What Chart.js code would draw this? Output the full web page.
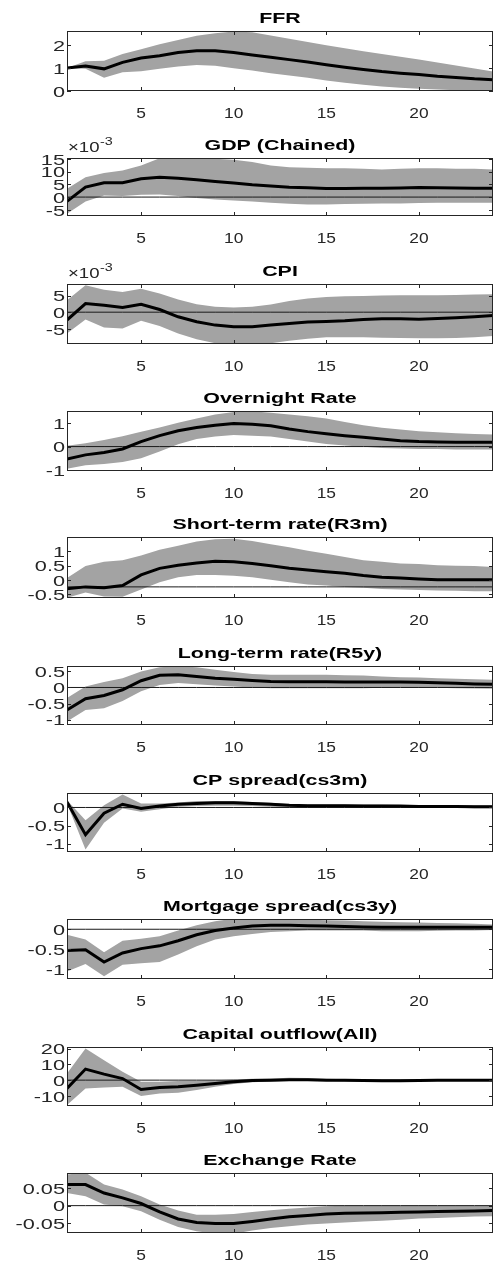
<!DOCTYPE html>
<html>
<head>
<meta charset="utf-8">
<script src="https://cdn.jsdelivr.net/npm/chart.js@4.4.1/dist/chart.umd.min.js"></script>
<style>
  body { margin: 0; background: #fff; width: 493px; height: 1268px; position: relative; overflow: hidden; }
  canvas { position: absolute; left: 0; }
</style>
</head>
<body>
<script>
'use strict';

// horizon (quarters) and the x tick labels
const horizon = [1, 2, 3, 4, 5, 6, 7, 8, 9, 10, 11, 12, 13, 14, 15, 16, 17, 18, 19, 20, 21, 22, 23, 24];
const xTicks = [5, 10, 15, 20];

// FFR
const ffrMean  = [1.0, 1.08, 0.96, 1.24, 1.43, 1.53, 1.67, 1.74, 1.74, 1.67, 1.56, 1.46, 1.36, 1.26, 1.14, 1.03, 0.93, 0.84, 0.77, 0.71, 0.64, 0.59, 0.53, 0.49];
const ffrUpper = [1.0, 1.29, 1.31, 1.6, 1.81, 2.03, 2.21, 2.39, 2.5, 2.58, 2.55, 2.4, 2.26, 2.12, 1.98, 1.85, 1.72, 1.6, 1.48, 1.36, 1.24, 1.1, 0.97, 0.84];
const ffrLower = [1.0, 0.96, 0.57, 0.81, 0.86, 0.96, 1.06, 1.13, 1.09, 0.99, 0.89, 0.77, 0.67, 0.57, 0.46, 0.36, 0.27, 0.2, 0.14, 0.1, 0.06, 0.03, 0.0, -0.02];
const ffrTicks = [0, 1, 2];

// GDP (chained), in units of 1e-3
const gdpMean  = [-1.7, 3.9, 5.6, 5.6, 7.2, 7.8, 7.4, 6.8, 6.1, 5.5, 4.8, 4.3, 3.9, 3.7, 3.4, 3.4, 3.5, 3.5, 3.6, 3.8, 3.7, 3.6, 3.5, 3.5];
const gdpUpper = [3.3, 7.8, 9.4, 10.4, 12.4, 15.2, 15.6, 15.6, 15.0, 14.6, 13.7, 12.4, 11.7, 11.5, 11.3, 11.3, 11.1, 10.8, 11.1, 11.3, 11.3, 11.1, 11.1, 10.8];
const gdpLower = [-6.5, -1.7, 0.65, 0.4, 0.9, 1.0, 0.4, -0.4, -0.9, -1.3, -1.7, -2.2, -2.6, -2.9, -2.9, -2.7, -2.6, -2.5, -2.5, -2.3, -2.2, -2.2, -2.2, -2.2];
const gdpTicks = [-5, 0, 5, 10, 15];

// CPI, in units of 1e-3
const cpiMean  = [-2.4, 2.6, 2.1, 1.4, 2.4, 0.8, -1.4, -2.9, -3.9, -4.4, -4.4, -3.9, -3.4, -3.0, -2.8, -2.6, -2.2, -2.0, -2.0, -2.1, -1.9, -1.7, -1.4, -1.0];
const cpiUpper = [3.6, 8.1, 6.8, 6.1, 7.1, 5.6, 3.8, 2.4, 1.6, 1.4, 1.6, 2.3, 3.4, 4.1, 4.6, 4.8, 4.9, 5.0, 5.1, 5.1, 5.1, 5.2, 5.3, 5.4];
const cpiLower = [-6.4, -2.2, -4.6, -4.9, -2.6, -4.2, -6.4, -8.2, -9.4, -9.8, -9.8, -9.4, -8.6, -8.0, -7.6, -7.6, -7.6, -7.7, -7.8, -7.9, -7.9, -7.8, -7.6, -7.2];
const cpiTicks = [-5, 0, 5];

// Overnight rate
const onMean  = [-0.53, -0.35, -0.25, -0.1, 0.21, 0.46, 0.67, 0.8, 0.9, 0.97, 0.94, 0.88, 0.74, 0.63, 0.54, 0.46, 0.39, 0.32, 0.25, 0.21, 0.19, 0.18, 0.18, 0.18];
const onUpper = [0.03, 0.14, 0.28, 0.44, 0.63, 0.8, 1.0, 1.18, 1.35, 1.46, 1.49, 1.43, 1.35, 1.28, 1.18, 1.04, 0.9, 0.79, 0.72, 0.65, 0.6, 0.56, 0.53, 0.51];
const onLower = [-0.94, -0.79, -0.74, -0.65, -0.49, -0.21, 0.1, 0.32, 0.42, 0.49, 0.46, 0.42, 0.32, 0.21, 0.11, 0.04, -0.01, -0.06, -0.08, -0.1, -0.1, -0.12, -0.12, -0.12];
const onTicks = [-1, 0, 1];

// Short-term rate (R3m)
const r3mMean  = [-0.32, -0.25, -0.28, -0.2, 0.17, 0.4, 0.51, 0.59, 0.65, 0.63, 0.57, 0.49, 0.4, 0.34, 0.28, 0.23, 0.15, 0.09, 0.06, 0.03, 0.0, 0.0, 0.0, 0.0];
const r3mUpper = [0.06, 0.48, 0.63, 0.68, 0.85, 1.05, 1.19, 1.34, 1.42, 1.44, 1.36, 1.25, 1.14, 1.02, 0.91, 0.8, 0.68, 0.63, 0.57, 0.55, 0.51, 0.49, 0.48, 0.45];
const r3mLower = [-0.63, -0.45, -0.59, -0.6, -0.34, -0.09, 0.09, 0.17, 0.17, 0.14, 0.09, 0.0, -0.09, -0.17, -0.2, -0.25, -0.28, -0.32, -0.34, -0.36, -0.38, -0.39, -0.4, -0.4];
const r3mTicks = [-0.5, 0, 0.5, 1];

// Long-term rate (R5y)
const r5yMean  = [-0.7, -0.35, -0.25, -0.07, 0.21, 0.38, 0.4, 0.34, 0.29, 0.26, 0.22, 0.19, 0.18, 0.18, 0.18, 0.17, 0.17, 0.17, 0.17, 0.16, 0.15, 0.13, 0.11, 0.1];
const r5yUpper = [-0.33, 0.03, 0.17, 0.29, 0.5, 0.63, 0.66, 0.63, 0.55, 0.48, 0.42, 0.4, 0.4, 0.4, 0.4, 0.38, 0.37, 0.34, 0.32, 0.31, 0.29, 0.27, 0.26, 0.24];
const r5yLower = [-1.06, -0.7, -0.65, -0.42, -0.12, 0.08, 0.14, 0.1, 0.06, 0.03, 0.0, -0.02, -0.02, -0.02, -0.02, -0.02, -0.02, -0.01, 0.0, 0.0, -0.01, -0.02, -0.03, -0.04];
const r5yTicks = [-1, -0.5, 0, 0.5];

// CP spread (cs3m)
const cpMean  = [0.15, -0.75, -0.16, 0.09, -0.03, 0.04, 0.09, 0.11, 0.13, 0.13, 0.11, 0.09, 0.06, 0.05, 0.05, 0.05, 0.04, 0.04, 0.04, 0.03, 0.03, 0.03, 0.02, 0.02];
const cpUpper = [0.2, -0.35, 0.06, 0.36, 0.11, 0.11, 0.14, 0.18, 0.18, 0.18, 0.15, 0.13, 0.09, 0.08, 0.08, 0.08, 0.08, 0.08, 0.07, 0.07, 0.07, 0.07, 0.06, 0.06];
const cpLower = [0.11, -1.16, -0.42, -0.03, -0.12, -0.05, 0.02, 0.04, 0.05, 0.05, 0.04, 0.02, 0.0, 0.0, 0.0, 0.0, 0.0, 0.0, 0.0, -0.01, -0.01, -0.01, -0.02, -0.02];
const cpTicks = [-1, -0.5, 0];

// Mortgage spread (cs3y)
const mtgMean  = [-0.54, -0.52, -0.83, -0.6, -0.49, -0.42, -0.29, -0.14, -0.03, 0.03, 0.08, 0.1, 0.1, 0.09, 0.08, 0.07, 0.06, 0.05, 0.05, 0.05, 0.05, 0.05, 0.05, 0.05];
const mtgUpper = [-0.14, -0.26, -0.58, -0.29, -0.24, -0.18, -0.03, 0.1, 0.2, 0.27, 0.28, 0.28, 0.27, 0.25, 0.23, 0.22, 0.2, 0.19, 0.18, 0.17, 0.16, 0.15, 0.14, 0.12];
const mtgLower = [-1.07, -0.88, -1.19, -0.9, -0.86, -0.83, -0.64, -0.43, -0.26, -0.18, -0.12, -0.07, -0.05, -0.03, -0.03, -0.03, -0.03, -0.05, -0.05, -0.05, -0.04, -0.03, -0.03, -0.02];
const mtgTicks = [-1, -0.5, 0];

// Capital outflow (All)
const capMean  = [-5.3, 7.0, 3.8, 1.0, -5.9, -4.6, -4.2, -3.2, -2.1, -1.1, -0.2, 0.0, 0.2, 0.2, 0.0, 0.0, -0.2, -0.4, -0.4, -0.2, 0.0, 0.0, 0.0, 0.0];
const capUpper = [4.2, 20.0, 12.6, 5.3, -1.1, -1.1, -0.6, -0.4, 0.0, 0.4, 0.8, 1.0, 1.5, 1.3, 0.8, 0.6, 0.4, 0.4, 0.4, 0.4, 0.4, 0.4, 0.4, 0.4];
const capLower = [-15.8, -5.3, -4.6, -4.2, -10.1, -8.4, -8.0, -6.3, -4.2, -2.5, -1.3, -0.8, -0.6, -0.6, -0.6, -0.8, -1.0, -1.0, -1.0, -0.8, -0.6, -0.4, -0.4, -0.4];
const capTicks = [-10, 0, 10, 20];

// Exchange rate
const fxMean  = [0.06, 0.06, 0.036, 0.022, 0.006, -0.018, -0.038, -0.048, -0.051, -0.051, -0.045, -0.038, -0.032, -0.028, -0.024, -0.022, -0.021, -0.02, -0.019, -0.018, -0.017, -0.016, -0.015, -0.014];
const fxUpper = [0.089, 0.094, 0.06, 0.046, 0.027, 0.003, -0.014, -0.026, -0.026, -0.024, -0.018, -0.013, -0.009, -0.005, -0.002, 0.0, 0.0, 0.0, 0.0, 0.0, 0.0, 0.0, 0.0, 0.0];
const fxLower = [0.036, 0.027, 0.003, -0.002, -0.016, -0.04, -0.061, -0.073, -0.08, -0.08, -0.071, -0.064, -0.059, -0.054, -0.051, -0.048, -0.045, -0.043, -0.04, -0.037, -0.035, -0.033, -0.031, -0.03];
const fxTicks = [-0.05, 0, 0.05];

// level of the thin horizontal reference line in each panel
const refLevels = [0, 0, 0, 0, -0.25, 0, 0, 0, 0, 0];

const panels = [
  { title: 'FFR', mean: ffrMean, upper: ffrUpper, lower: ffrLower, ticks: ffrTicks, min: 0, max: 2.6 },
  { title: 'GDP (Chained)', mean: gdpMean, upper: gdpUpper, lower: gdpLower, ticks: gdpTicks, min: -7.4, max: 15.3, exp: true },
  { title: 'CPI', mean: cpiMean, upper: cpiUpper, lower: cpiLower, ticks: cpiTicks, min: -9.6, max: 8.5, exp: true },
  { title: 'Overnight Rate', mean: onMean, upper: onUpper, lower: onLower, ticks: onTicks, min: -1.03, max: 1.5 },
  { title: 'Short-term rate(R3m)', mean: r3mMean, upper: r3mUpper, lower: r3mLower, ticks: r3mTicks, min: -0.64, max: 1.5 },
  { title: 'Long-term rate(R5y)', mean: r5yMean, upper: r5yUpper, lower: r5yLower, ticks: r5yTicks, min: -1.17, max: 0.67 },
  { title: 'CP spread(cs3m)', mean: cpMean, upper: cpUpper, lower: cpLower, ticks: cpTicks, min: -1.23, max: 0.4 },
  { title: 'Mortgage spread(cs3y)', mean: mtgMean, upper: mtgUpper, lower: mtgLower, ticks: mtgTicks, min: -1.26, max: 0.26 },
  { title: 'Capital outflow(All)', mean: capMean, upper: capUpper, lower: capLower, ticks: capTicks, min: -16.4, max: 21 },
  { title: 'Exchange Rate', mean: fxMean, upper: fxUpper, lower: fxLower, ticks: fxTicks, min: -0.078, max: 0.093 }
];

// where each plot box sits on the page
const boxTop    = [31, 158, 284, 411, 537, 666, 793, 919, 1047, 1173];
const boxBottom = [91, 216, 344, 471, 598, 725, 852, 979, 1106, 1233];
const padTop = 30;
const xAxisHeight = 35;
const yAxisWidth = 67;

const axisColor = '#262626';
const bandColor = '#a3a3a3';
const labelFont = '15.5px "Liberation Sans", Arial, sans-serif';

// draws text widened horizontally around (x, y); the original picture is stretched sideways
function wideText(ctx, text, x, y, sx) {
  ctx.save();
  ctx.translate(x, y);
  ctx.scale(sx, 1);
  ctx.fillText(text, 0, 0);
  ctx.restore();
}

const framePlugin = {
  id: 'frame',
  afterDatasetsDraw(chart, args, opts) {
    const { ctx, chartArea: a, scales } = chart;
    ctx.save();
    ctx.strokeStyle = axisColor;
    ctx.lineWidth = 1;
    ctx.strokeRect(a.left + 0.5, a.top + 0.5, a.right - a.left - 1, a.bottom - a.top - 1);
    ctx.beginPath();
    xTicks.forEach(v => {
      const x = Math.round(scales.x.getPixelForValue(v)) + 0.5;
      ctx.moveTo(x, a.bottom); ctx.lineTo(x, a.bottom - 4);
      ctx.moveTo(x, a.top); ctx.lineTo(x, a.top + 4);
    });
    opts.ticks.forEach(v => {
      const y = Math.round(scales.y.getPixelForValue(v)) + 0.5;
      ctx.moveTo(a.left, y); ctx.lineTo(a.left + 4, y);
      ctx.moveTo(a.right, y); ctx.lineTo(a.right - 4, y);
    });
    ctx.stroke();

    // tick labels
    ctx.fillStyle = axisColor;
    ctx.font = labelFont;
    ctx.textBaseline = 'middle';
    ctx.textAlign = 'center';
    xTicks.forEach(v => {
      wideText(ctx, String(v), scales.x.getPixelForValue(v), a.bottom + 23, 1.12);
    });
    ctx.textAlign = 'right';
    opts.ticks.forEach(v => {
      wideText(ctx, String(v), a.left - 2, scales.y.getPixelForValue(v) + 1.5, 1.4);
    });

    // title
    ctx.fillStyle = '#000';
    ctx.font = 'bold 15.5px "Liberation Sans", Arial, sans-serif';
    ctx.textAlign = 'center';
    wideText(ctx, opts.title, (a.left + a.right) / 2, a.top - 12, 1.38);

    if (opts.exp) {
      ctx.fillStyle = axisColor;
      ctx.textAlign = 'left';
      ctx.textBaseline = 'alphabetic';
      ctx.font = labelFont;
      wideText(ctx, '\u00d710', a.left + 1, a.top - 6, 1.2);
      ctx.font = '11px "Liberation Sans", Arial, sans-serif';
      wideText(ctx, '-3', a.left + 33, a.top - 13, 1.3);
    }
    ctx.restore();
  }
};

panels.forEach((p, i) => {
  const canvas = document.createElement('canvas');
  const h = boxBottom[i] - boxTop[i] + padTop + xAxisHeight;
  canvas.width = 493;
  canvas.height = h;
  canvas.style.top = (boxTop[i] - padTop) + 'px';
  canvas.style.width = '493px';
  canvas.style.height = h + 'px';
  document.body.appendChild(canvas);

  new Chart(canvas, {
    type: 'line',
    data: {
      labels: horizon,
      datasets: [
        { data: p.mean, borderColor: '#000', borderWidth: 3, pointRadius: 0, tension: 0, fill: false },
        { data: horizon.map(() => refLevels[i]), borderColor: '#1a1a1a', borderWidth: 1, pointRadius: 0, fill: false },
        { data: p.upper, borderWidth: 0, borderColor: bandColor, backgroundColor: bandColor, pointRadius: 0, fill: '+1' },
        { data: p.lower, borderWidth: 0, borderColor: bandColor, pointRadius: 0, fill: false }
      ]
    },
    options: {
      responsive: false,
      animation: false,
      devicePixelRatio: 1,
      layout: { padding: { top: padTop, left: 0, right: 0, bottom: 0 } },
      plugins: {
        legend: { display: false },
        tooltip: { enabled: false },
        frame: { title: p.title, ticks: p.ticks, exp: !!p.exp }
      },
      scales: {
        x: {
          type: 'linear',
          min: 1,
          max: 24,
          grid: { display: false, drawTicks: false },
          border: { display: false },
          afterBuildTicks: s => { s.ticks = xTicks.map(v => ({ value: v })); },
          afterFit: s => { s.height = xAxisHeight; },
          ticks: { display: false }
        },
        y: {
          min: p.min,
          max: p.max,
          grid: { display: false, drawTicks: false },
          border: { display: false },
          afterBuildTicks: s => { s.ticks = p.ticks.map(v => ({ value: v })); },
          afterFit: s => { s.width = yAxisWidth; },
          ticks: { display: false }
        }
      }
    },
    plugins: [framePlugin]
  });
});
</script>
</body>
</html>
